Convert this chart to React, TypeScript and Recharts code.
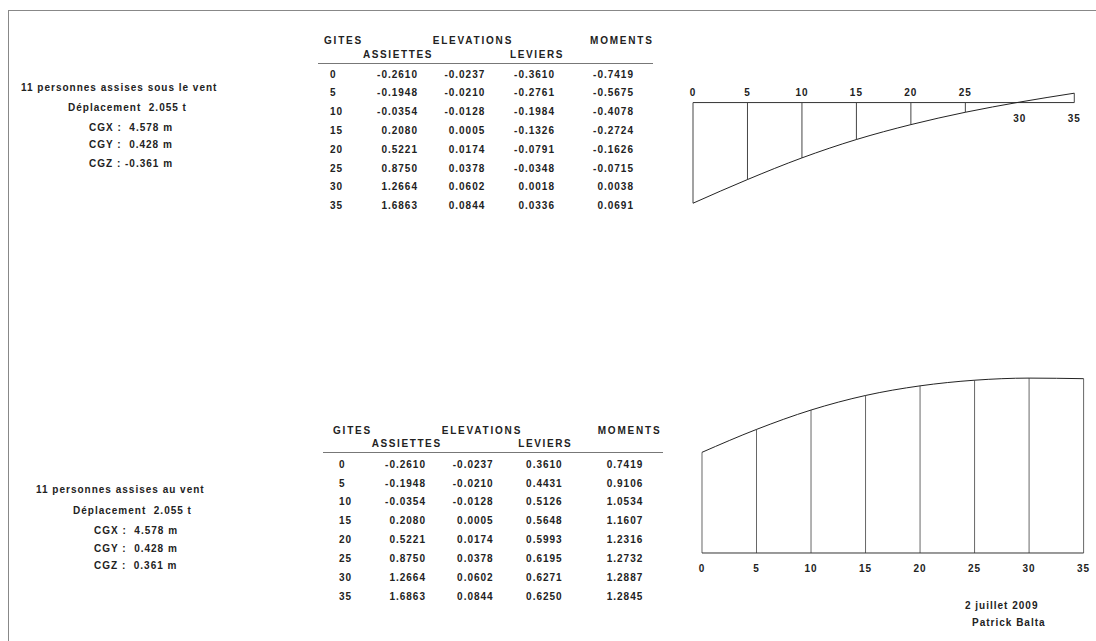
import React from 'react'
import {
  LineChart,
  Line,
  XAxis,
  YAxis,
  ReferenceLine,
  ReferenceDot,
} from 'recharts'

const gites = [0, 5, 10, 15, 20, 25, 30, 35]
const assiettes = [-0.261, -0.1948, -0.0354, 0.208, 0.5221, 0.875, 1.2664, 1.6863]
const elevations = [-0.0237, -0.021, -0.0128, 0.0005, 0.0174, 0.0378, 0.0602, 0.0844]
const leviersSous = [-0.361, -0.2761, -0.1984, -0.1326, -0.0791, -0.0348, 0.0018, 0.0336]
const momentsSous = [-0.7419, -0.5675, -0.4078, -0.2724, -0.1626, -0.0715, 0.0038, 0.0691]
const leviersAu = [0.361, 0.4431, 0.5126, 0.5648, 0.5993, 0.6195, 0.6271, 0.625]
const momentsAu = [0.7419, 0.9106, 1.0534, 1.1607, 1.2316, 1.2732, 1.2887, 1.2845]

const sousInfo = [
  '11 personnes assises sous le vent',
  'Déplacement  2.055 t',
  'CGX :  4.578 m',
  'CGY :  0.428 m',
  'CGZ : -0.361 m',
]
const auInfo = [
  '11 personnes assises au vent',
  'Déplacement  2.055 t',
  'CGX :  4.578 m',
  'CGY :  0.428 m',
  'CGZ :  0.361 m',
]

const FONT = '"Liberation Sans", Arial, sans-serif'
const INK = '#222'

// places a line of text so that its cap height is centred on cy
function Txt({ x, cy, children, spacing = 1 }: any) {
  return (
    <div
      style={{
        position: 'absolute',
        left: x,
        top: cy - 6.4,
        fontSize: 10,
        lineHeight: '12px',
        fontWeight: 'bold',
        letterSpacing: spacing,
        whiteSpace: 'pre',
        color: INK,
      }}
    >
      {children}
    </div>
  )
}

function Num({ right, cy, children }: any) {
  return (
    <div
      style={{
        position: 'absolute',
        left: right - 80,
        width: 81,
        top: cy - 6.4,
        fontSize: 10,
        lineHeight: '12px',
        fontWeight: 'bold',
        letterSpacing: 1,
        textAlign: 'right',
        whiteSpace: 'pre',
        color: INK,
      }}
    >
      {children}
    </div>
  )
}

function Table({ layout, leviers, moments }: any) {
  const { heads, subs, rule, gx, cols, row0, step } = layout
  const series = [assiettes, elevations, leviers, moments]
  return (
    <>
      <Txt x={heads[0]} cy={rule.y - 21.6} spacing={1.8}>GITES</Txt>
      <Txt x={heads[1]} cy={rule.y - 21.6} spacing={1.8}>ELEVATIONS</Txt>
      <Txt x={heads[2]} cy={rule.y - 21.6} spacing={1.8}>MOMENTS</Txt>
      <Txt x={subs[0]} cy={rule.y - 8.3} spacing={1.6}>ASSIETTES</Txt>
      <Txt x={subs[1]} cy={rule.y - 8.3} spacing={1.6}>LEVIERS</Txt>
      <div
        style={{
          position: 'absolute',
          left: rule.x1,
          top: rule.y - 0.5,
          width: rule.x2 - rule.x1,
          height: 1,
          background: '#777',
        }}
      />
      {gites.map((g, i) => (
        <React.Fragment key={g}>
          <Txt x={gx} cy={row0 + i * step}>{String(g)}</Txt>
          {series.map((s, j) => (
            <Num key={j} right={cols[j]} cy={row0 + i * step}>
              {s[i].toFixed(4)}
            </Num>
          ))}
        </React.Fragment>
      ))}
    </>
  )
}

function Info({ lines, pos }: any) {
  return (
    <>
      {lines.map((l: string, i: number) => (
        <Txt key={i} x={pos[i][0]} cy={pos[i][1]}>{l}</Txt>
      ))}
    </>
  )
}

const sousData = gites.map((g, i) => ({ gite: g, moment: momentsSous[i] }))
const auData = gites.map((g, i) => ({ gite: g, moment: momentsAu[i] }))

const labelStyle = { fontSize: 10, fontWeight: 'bold', letterSpacing: 1, fill: INK }

function SousChart() {
  return (
    <LineChart
      width={421.3}
      height={152.1}
      data={sousData}
      margin={{ top: 20, right: 30, bottom: 10, left: 10 }}
    >
      <XAxis dataKey="gite" type="number" domain={[0, 35]} hide />
      <YAxis type="number" domain={[-0.8, 0.1]} hide />
      <ReferenceLine y={0} stroke="#333" strokeWidth={1} />
      {sousData.map((d) => (
        <ReferenceLine
          key={d.gite}
          segment={[
            { x: d.gite, y: 0 },
            { x: d.gite, y: d.moment },
          ]}
          stroke="#444"
          strokeWidth={1}
        />
      ))}
      {sousData.map((d) => (
        <ReferenceDot
          key={'l' + d.gite}
          x={d.gite}
          y={0}
          r={0}
          fill="none"
          stroke="none"
          label={{
            value: String(d.gite),
            position: d.moment < 0 ? 'top' : 'bottom',
            offset: d.moment < 0 ? 7 : 12,
            ...labelStyle,
          }}
        />
      ))}
      <Line
        dataKey="moment"
        type="monotone"
        stroke="#222"
        strokeWidth={1}
        dot={false}
        isAnimationActive={false}
      />
    </LineChart>
  )
}

function AuChart() {
  return (
    <LineChart
      width={411.6}
      height={230}
      data={auData}
      margin={{ top: 10, right: 20, bottom: 0, left: 10 }}
    >
      <XAxis
        dataKey="gite"
        type="number"
        domain={[0, 35]}
        ticks={gites}
        interval={0}
        tickLine={false}
        tickMargin={6}
        axisLine={{ stroke: '#333' }}
        tick={labelStyle}
        height={30}
      />
      <YAxis type="number" domain={[0, 1.4]} hide />
      {auData.map((d) => (
        <ReferenceLine
          key={d.gite}
          segment={[
            { x: d.gite, y: 0 },
            { x: d.gite, y: d.moment },
          ]}
          stroke="#666"
          strokeWidth={1}
        />
      ))}
      <Line
        dataKey="moment"
        type="monotone"
        stroke="#222"
        strokeWidth={1}
        dot={false}
        isAnimationActive={false}
      />
    </LineChart>
  )
}

export default function App() {
  return (
    <div
      style={{
        position: 'fixed',
        left: 0,
        top: 0,
        width: 1096,
        height: 641,
        overflow: 'hidden',
        background: '#fff',
        fontFamily: FONT,
      }}
    >
      <div
        style={{
          position: 'absolute',
          left: 7.5,
          top: 9.5,
          width: 1200,
          height: 800,
          borderLeft: '1.5px solid #888',
          borderTop: '1.5px solid #888',
        }}
      />

      <Info
        lines={sousInfo}
        pos={[[21, 88.3], [68, 108.3], [89, 128.3], [89, 145.7], [89, 164.3]]}
      />
      <Table
        leviers={leviersSous}
        moments={momentsSous}
        layout={{
          heads: [324, 432.7, 590],
          subs: [363, 510],
          rule: { x1: 318, x2: 653, y: 63.3 },
          gx: 330,
          cols: [417, 484.3, 554, 633],
          row0: 75,
          step: 18.8,
        }}
      />
      <div style={{ position: 'absolute', left: 683, top: 68.7 }}>
        <SousChart />
      </div>

      <Info
        lines={auInfo}
        pos={[[36, 490], [73, 511.7], [94, 531.7], [94, 549.3], [94, 566.7]]}
      />
      <Table
        leviers={leviersAu}
        moments={momentsAu}
        layout={{
          heads: [333, 441.7, 597.7],
          subs: [371.7, 518.3],
          rule: { x1: 323, x2: 663, y: 452.7 },
          gx: 339,
          cols: [425, 492.7, 561.7, 642.3],
          row0: 465,
          step: 18.9,
        }}
      />
      <div style={{ position: 'absolute', left: 691.7, top: 353.3 }}>
        <AuChart />
      </div>

      <Txt x={965} cy={606}>2 juillet 2009</Txt>
      <Txt x={972} cy={623.3}>Patrick Balta</Txt>
    </div>
  )
}
